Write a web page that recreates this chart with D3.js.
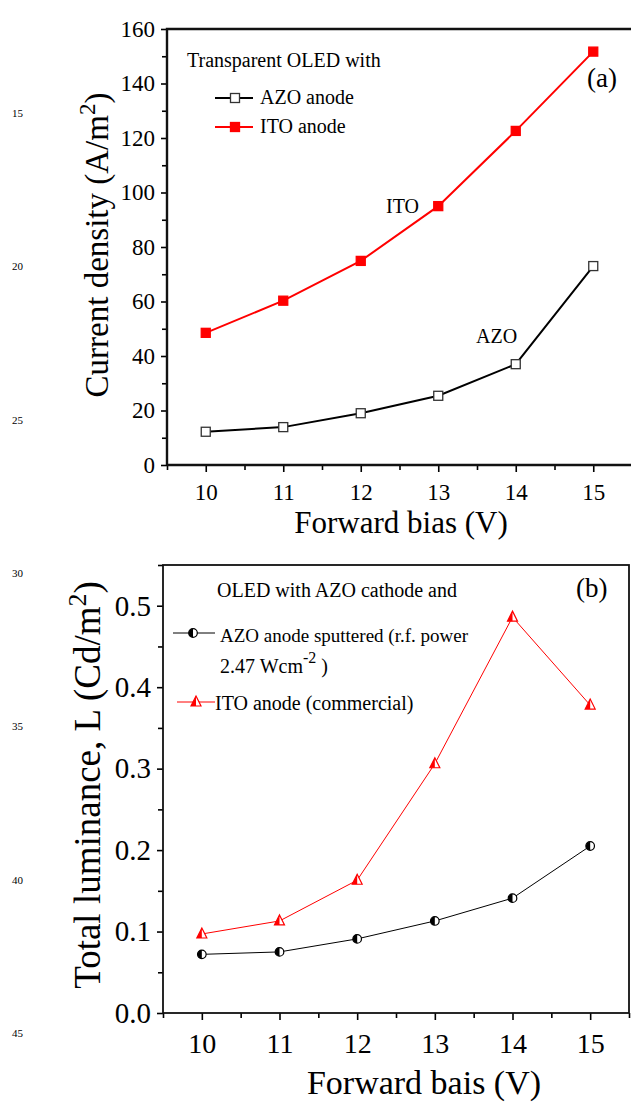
<!DOCTYPE html>
<html>
<head>
<meta charset="utf-8">
<script src="https://cdn.jsdelivr.net/npm/d3@7"></script>
<style>
  body { margin: 0; background: #fff; }
  svg { display: block; }
  svg text { font-family: "Liberation Serif", "DejaVu Serif", serif; fill: #000; }
</style>
</head>
<body>
<svg id="chart" width="631" height="1102"></svg>
<script>
// bias voltage, same for both panels
var volts = [10, 11, 12, 13, 14, 15];
// (a) current density, A/m2
var azoCurrent = [12.2, 13.9, 19.0, 25.4, 37.0, 73.0];
var itoCurrent = [48.5, 60.3, 74.9, 95.0, 122.6, 151.7];
// (b) total luminance, Cd/m2
var azoLum = [0.072, 0.075, 0.091, 0.113, 0.141, 0.205];
var itoLum = [0.097, 0.113, 0.163, 0.306, 0.486, 0.378];
var topTicks = [0, 20, 40, 60, 80, 100, 120, 140, 160];
var botTicks = [0, 0.1, 0.2, 0.3, 0.4, 0.5];
var lineNums = [15, 20, 25, 30, 35, 40, 45];

var red = "#ff0000";
var serif = "Liberation Serif";
var svg = d3.select("#chart");

// stray manuscript line numbers in the left margin
var numY = d3.scaleLinear().domain([15, 45]).range([117, 1037]);
svg.selectAll(".lnum").data(lineNums).enter().append("text")
    .attr("class", "lnum")
    .attr("x", 12).attr("y", function(d) { return numY(d); })
    .attr("font-size", 11).text(function(d) { return d; });

function axes(g, x, y, yTicks, yFmt, xSize, ySize, xPad, yPad, x0, y0) {
  var xa = d3.axisBottom(x).tickValues(volts).tickSize(7).tickPadding(xPad).tickFormat(d3.format("d"));
  var xm = d3.axisBottom(x).tickValues(d3.range(9.5, 15.6, 1)).tickSize(5).tickFormat("");
  var ya = d3.axisLeft(y).tickValues(yTicks).tickSize(6).tickPadding(yPad).tickFormat(yFmt);
  var minors = [];
  for (var i = 0; i < yTicks.length - 1; i++) minors.push((yTicks[i] + yTicks[i + 1]) / 2);
  if (y.domain()[1] > yTicks[yTicks.length - 1]) minors.push(yTicks[yTicks.length - 1] + (yTicks[1] - yTicks[0]) / 2);
  var ym = d3.axisLeft(y).tickValues(minors).tickSize(5).tickFormat("");

  [xa, xm].forEach(function(a) {
    g.append("g").attr("class", "xax").attr("transform", "translate(0," + y0 + ")").call(a)
      .call(function(s) { s.select(".domain").remove(); });
  });
  [ya, ym].forEach(function(a) {
    g.append("g").attr("class", "yax").attr("transform", "translate(" + x0 + ",0)").call(a)
      .call(function(s) { s.select(".domain").remove(); });
  });
  g.selectAll(".tick line").attr("stroke", "#000").attr("stroke-width", 1.6);
  g.selectAll(".tick text").attr("font-family", serif).attr("fill", "#000");
  g.selectAll(".xax .tick text").attr("font-size", xSize);
  g.selectAll(".yax .tick text").attr("font-size", ySize);
}

function pts(x, y, vals) { return volts.map(function(v, i) { return [x(v), y(vals[i])]; }); }
var line = d3.line();

// ---------- panel (a) ----------
var ga = svg.append("g");
var xa = d3.scaleLinear().domain([9.5, 15.5]).range([167, 632]);
var ya = d3.scaleLinear().domain([0, 160]).range([465, 29]);
axes(ga, xa, ya, topTicks, d3.format("d"), 23, 23, 12, 6, 167, 465);
ga.append("path")
  .attr("d", "M167,465 L632,465 M167,465 L167,29 L632,29")
  .attr("fill", "none").attr("stroke", "#111").attr("stroke-width", 2.4);

ga.append("path").attr("d", line(pts(xa, ya, itoCurrent)))
  .attr("fill", "none").attr("stroke", red).attr("stroke-width", 2);
ga.append("path").attr("d", line(pts(xa, ya, azoCurrent)))
  .attr("fill", "none").attr("stroke", "#000").attr("stroke-width", 2);

function square(g, cx, cy, filled) {
  g.append("rect").attr("x", cx - 4.5).attr("y", cy - 4.5).attr("width", 9).attr("height", 9)
    .attr("fill", filled ? red : "#fff").attr("stroke", filled ? red : "#333").attr("stroke-width", 1.3);
}
pts(xa, ya, itoCurrent).forEach(function(p) { square(ga, p[0], p[1], true); });
pts(xa, ya, azoCurrent).forEach(function(p) { square(ga, p[0], p[1], false); });

ga.append("text").attr("x", 187).attr("y", 67).attr("font-size", 20).text("Transparent OLED with");
ga.append("line").attr("x1", 215).attr("x2", 253).attr("y1", 98).attr("y2", 98).attr("stroke", "#000").attr("stroke-width", 2);
square(ga, 235, 98, false);
ga.append("text").attr("x", 260).attr("y", 104).attr("font-size", 20).text("AZO anode");
ga.append("line").attr("x1", 215).attr("x2", 253).attr("y1", 127).attr("y2", 127).attr("stroke", red).attr("stroke-width", 2);
square(ga, 235, 127, true);
ga.append("text").attr("x", 260).attr("y", 133).attr("font-size", 20).text("ITO anode");
ga.append("text").attr("x", 587).attr("y", 87).attr("font-size", 27).text("(a)");
ga.append("text").attr("x", 386).attr("y", 213).attr("font-size", 20).text("ITO");
ga.append("text").attr("x", 476).attr("y", 343).attr("font-size", 20).text("AZO");

ga.append("text").attr("x", 401).attr("y", 533).attr("text-anchor", "middle")
  .attr("font-size", 31).text("Forward bias (V)");
var yla = ga.append("text").attr("transform", "translate(108,245) rotate(-90)")
  .attr("text-anchor", "middle").attr("font-size", 33);
yla.append("tspan").text("Current density (A/m");
yla.append("tspan").attr("font-size", 23).attr("dy", -13).text("2");
yla.append("tspan").attr("dy", 13).text(")");

// ---------- panel (b) ----------
var gb = svg.append("g");
var xb = d3.scaleLinear().domain([9.5, 15.5]).range([163, 629]);
var yb = d3.scaleLinear().domain([0, 0.55]).range([1013, 565]);
axes(gb, xb, yb, botTicks, d3.format(".1f"), 28, 29, 13, 6, 163, 1013);
gb.append("rect").attr("x", 163).attr("y", 565).attr("width", 466).attr("height", 448)
  .attr("fill", "none").attr("stroke", "#111").attr("stroke-width", 1.8);

gb.append("path").attr("d", line(pts(xb, yb, itoLum)))
  .attr("fill", "none").attr("stroke", red).attr("stroke-width", 1);
gb.append("path").attr("d", line(pts(xb, yb, azoLum)))
  .attr("fill", "none").attr("stroke", "#000").attr("stroke-width", 1);

function halfCircle(g, cx, cy) {
  var r = 4.3;
  g.append("circle").attr("cx", cx).attr("cy", cy).attr("r", r).attr("fill", "#fff")
    .attr("stroke", "#000").attr("stroke-width", 1.2);
  g.append("path").attr("d", "M" + cx + "," + (cy - r) + " A" + r + "," + r + " 0 0 0 " + cx + "," + (cy + r) + " Z")
    .attr("fill", "#000");
}
function halfTri(g, cx, cy) {
  var h = 10, w = 10;
  g.append("path").attr("d", "M" + cx + "," + (cy - h * 0.6) + " L" + (cx + w / 2) + "," + (cy + h * 0.4) + " L" + (cx - w / 2) + "," + (cy + h * 0.4) + " Z")
    .attr("fill", "#fff").attr("stroke", red).attr("stroke-width", 1.2);
  g.append("path").attr("d", "M" + cx + "," + (cy - h * 0.6) + " L" + cx + "," + (cy + h * 0.4) + " L" + (cx - w / 2) + "," + (cy + h * 0.4) + " Z")
    .attr("fill", red);
}
pts(xb, yb, itoLum).forEach(function(p) { halfTri(gb, p[0], p[1]); });
pts(xb, yb, azoLum).forEach(function(p) { halfCircle(gb, p[0], p[1]); });

gb.append("text").attr("x", 217).attr("y", 597).attr("font-size", 20).text("OLED with AZO cathode and");
gb.append("line").attr("x1", 173).attr("x2", 215).attr("y1", 633).attr("y2", 633).attr("stroke", "#000").attr("stroke-width", 1);
halfCircle(gb, 193, 633);
gb.append("text").attr("x", 220).attr("y", 642).attr("font-size", 19).text("AZO anode sputtered (r.f. power");
var wl = gb.append("text").attr("x", 220).attr("y", 673).attr("font-size", 20);
wl.append("tspan").text("2.47 Wcm");
wl.append("tspan").attr("font-size", 16).attr("dy", -10).text("-2");
wl.append("tspan").attr("dy", 10).text(" )");
gb.append("line").attr("x1", 177).attr("x2", 215).attr("y1", 702).attr("y2", 702).attr("stroke", red).attr("stroke-width", 1);
halfTri(gb, 196, 702);
gb.append("text").attr("x", 215).attr("y", 710).attr("font-size", 20).text("ITO anode (commercial)");
gb.append("text").attr("x", 576).attr("y", 597).attr("font-size", 27).text("(b)");

gb.append("text").attr("x", 424).attr("y", 1094).attr("text-anchor", "middle")
  .attr("font-size", 34).text("Forward bais (V)");
var ylb = gb.append("text").attr("transform", "translate(100,785) rotate(-90)")
  .attr("text-anchor", "middle").attr("font-size", 37);
ylb.append("tspan").text("Total luminance, L (Cd/m");
ylb.append("tspan").attr("font-size", 26).attr("dy", -14).text("2");
ylb.append("tspan").attr("dy", 14).text(")");
</script>
</body>
</html>
